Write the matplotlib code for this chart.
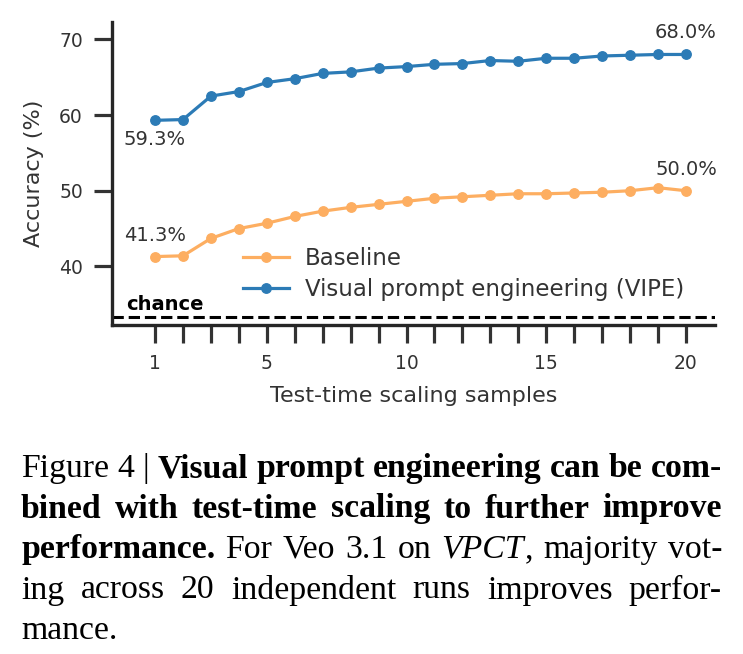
import matplotlib
matplotlib.use("Agg")
import matplotlib.pyplot as plt

# test-time scaling samples and accuracies (%)
samples = list(range(1, 21))
baseline = [41.3, 41.4, 43.7, 45.0, 45.7, 46.6, 47.3, 47.8, 48.2, 48.6,
            49.0, 49.2, 49.4, 49.6, 49.6, 49.7, 49.8, 50.0, 50.4, 50.0]
vipe = [59.3, 59.4, 62.5, 63.1, 64.3, 64.8, 65.5, 65.7, 66.2, 66.4,
        66.7, 66.8, 67.2, 67.1, 67.5, 67.5, 67.8, 67.9, 68.0, 68.0]
chance = 100 / 3
xtick_labels = ["1", "5", "10", "15", "20"]

caption_lines = [
    [[("Figure", "n")], [("4", "n")], [("|", "n")], [("Visual", "b")], [("prompt", "b")],
     [("engineering", "b")], [("can", "b")], [("be", "b")], [("com-", "b")]],
    [[("bined", "b")], [("with", "b")], [("test-time", "b")], [("scaling", "b")], [("to", "b")],
     [("further", "b")], [("improve", "b")]],
    [[("performance.", "b")], [("For", "n")], [("Veo", "n")], [("3.1", "n")], [("on", "n")],
     [("VPCT", "i"), (",", "n")], [("majority", "n")], [("vot-", "n")]],
    [[("ing", "n")], [("across", "n")], [("20", "n")], [("independent", "n")], [("runs", "n")],
     [("improves", "n")], [("perfor-", "n")]],
    [[("mance.", "n")]],
]

W, H = 743, 654
fig = plt.figure(figsize=(W / 100, H / 100), dpi=100)
ax = fig.add_axes([112 / W, 1 - 325 / H, (715 - 112) / W, (325 - 22) / H])

txt = "#333333"
blue = "#2c7bb6"
orange = "#fdae61"

ax.plot(samples, baseline, color=orange, lw=2.3, marker="o", ms=6.8, label="Baseline")
ax.plot(samples, vipe, color=blue, lw=2.3, marker="o", ms=6.8,
        label="Visual prompt engineering (VIPE)")
ax.axhline(chance, color="black", lw=2.2, ls="--", zorder=1)
ax.text(-0.05, chance + 0.4, "chance", fontsize=14, fontweight="bold", color="black",
        ha="left", va="bottom")

ax.annotate(f"{vipe[0]:.1f}%", (samples[0], vipe[0]), xytext=(0, -10), textcoords="offset pixels",
            ha="center", va="top", fontsize=14, color=txt)
ax.annotate(f"{baseline[0]:.1f}%", (samples[0], baseline[0]), xytext=(0, 12), textcoords="offset pixels",
            ha="center", va="bottom", fontsize=14, color=txt)
ax.annotate(f"{vipe[-1]:.1f}%", (samples[-1], vipe[-1]), xytext=(0, 12), textcoords="offset pixels",
            ha="center", va="bottom", fontsize=14, color=txt)
ax.annotate(f"{baseline[-1]:.1f}%", (samples[-1], baseline[-1]), xytext=(0, 12), textcoords="offset pixels",
            ha="center", va="bottom", fontsize=14, color=txt)

ax.set_xlim(-0.54, 21.04)
ax.set_ylim(32.26, 72.29)
ax.set_xticks(samples)
ax.set_xticklabels([str(s) if str(s) in xtick_labels else "" for s in samples])
ax.set_yticks([40, 50, 60, 70])
for side in ["top", "right"]:
    ax.spines[side].set_visible(False)
for side in ["left", "bottom"]:
    ax.spines[side].set_linewidth(2.4)
    ax.spines[side].set_color("#262626")
ax.tick_params(length=13, width=2.3, color="#333333", labelsize=13.5, labelcolor=txt, pad=8)
ax.set_xlabel("Test-time scaling samples", fontsize=16, color=txt, labelpad=9)
ax.set_ylabel("Accuracy (%)", fontsize=16, color=txt, labelpad=11)

leg = ax.legend(loc="lower left", bbox_to_anchor=(0.198, 0.04), frameon=False, fontsize=16.5,
                handlelength=2.0, borderpad=0, labelspacing=0.35, handletextpad=0.7)
for t in leg.get_texts():
    t.set_color(txt)

# justified caption below the chart
fig.canvas.draw()
renderer = fig.canvas.get_renderer()
cap_font = dict(family="Liberation Serif", size=24.3, color="black")
styles = {"n": dict(weight="normal", style="normal"),
          "b": dict(weight="bold", style="normal"),
          "i": dict(weight="normal", style="italic")}


def width_of(s, st):
    t = fig.text(0, 0, s, **cap_font, **styles[st])
    w = t.get_window_extent(renderer).width
    t.remove()
    return w


left_px, right_px = 21, 722
base_y = 477
line_gap = 40.5
space = width_of("x x", "n") - width_of("xx", "n")
for li, words in enumerate(caption_lines):
    widths = [sum(width_of(p, st) for p, st in w) for w in words]
    last = li == len(caption_lines) - 1
    if last or len(words) == 1:
        gap = space
    else:
        gap = (right_px - left_px - sum(widths)) / (len(words) - 1)
    x = left_px
    y = base_y + li * line_gap
    for w, ww in zip(words, widths):
        xp = x
        for p, st in w:
            fig.text(xp / W, 1 - y / H, p, ha="left", va="baseline", **cap_font, **styles[st])
            xp += width_of(p, st)
        x += ww + gap

fig.savefig("out.png", dpi=100)
